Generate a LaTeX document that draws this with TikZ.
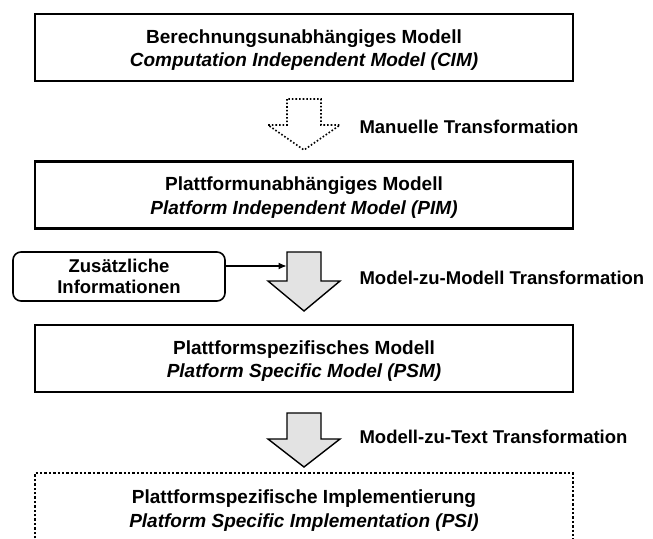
\documentclass[tikz,border=0pt]{standalone}
\usepackage{fontspec}
\setmainfont{Liberation Sans}
\usetikzlibrary{arrows.meta}
% strut that sets the top gap of the first text line in a box
\newcommand{\topstrut}{\rule{0pt}{18.5pt}}
\begin{document}
\begin{tikzpicture}[x=1pt,y=-1pt,
  modelbox/.style={line width=2.6pt,minimum width=538pt,minimum height=67pt,inner sep=0pt,
    align=center,font=\fontsize{19}{23.5}\selectfont\bfseries},
  sidelabel/.style={anchor=west,font=\fontsize{18.5}{22}\selectfont\bfseries},
  blockarrow/.style={draw=black,line width=1.4pt,fill=black!11,line join=miter},
  manualarrow/.style={draw=black,dotted,line width=1.6pt,fill=white,line join=miter},
  infobox/.style={draw=black,line width=1.6pt,rounded corners=8pt,minimum width=212pt,minimum height=49pt,
    inner sep=0pt,align=center,font=\fontsize{18.5}{21}\selectfont\bfseries}]
\useasboundingbox (0,0) rectangle (653,538);

% model layers
\node[modelbox,draw] (cim) at (304,47.5) {\topstrut Berechnungsunabhängiges Modell\\\itshape Computation Independent Model (CIM)};
\node[modelbox,draw] (pim) at (304,195) {\topstrut Plattformunabhängiges Modell\\\itshape Platform Independent Model (PIM)};
\node[modelbox,draw] (psm) at (304,358.5) {\topstrut Plattformspezifisches Modell\\\itshape Platform Specific Model (PSM)};

% implementation layer, open towards the bottom
\node[modelbox] (psi) at (304,508) {\topstrut Plattformspezifische Implementierung\\\itshape Platform Specific Implementation (PSI)};
\coordinate (psitl) at (35,473);
\coordinate (psitr) at (573,473);
\draw[dotted,line width=2.4pt] (psitl |- psi.south) -- (psitl) -- (psitr) -- (psitr |- psi.south);

% transformation arrows
\coordinate (t1) at (304,99);
\draw[manualarrow] (t1) ++(-17,0) -- ++(0,26) -- ++(-19,0) -- ++(36,25) -- ++(36,-25) -- ++(-19,0) -- ++(0,-26) -- cycle;
\node[sidelabel] (l1) at (356,127) {Manuelle Transformation};

\coordinate (t2) at (304,252);
\draw[blockarrow] (t2) ++(-17,0) -- ++(0,29) -- ++(-19,0) -- ++(36,30) -- ++(36,-30) -- ++(-19,0) -- ++(0,-29) -- cycle;
\node[sidelabel] (l2) at (356,278) {Model-zu-Modell Transformation};

\coordinate (t3) at (304,413);
\draw[blockarrow] (t3) ++(-17,0) -- ++(0,26) -- ++(-19,0) -- ++(36,28) -- ++(36,-28) -- ++(-19,0) -- ++(0,-26) -- cycle;
\node[sidelabel] (l3) at (356,437) {Modell-zu-Text Transformation};

% additional information feeding the model-to-model step
\node[infobox] (zi) at (119,276.5) {Zusätzliche\\Informationen};
\coordinate (zin) at (286.5,266);
\draw[line width=1.1pt,-{Latex[length=8pt,width=7pt]}] (zi.east |- zin) -- (zin);
\end{tikzpicture}
\end{document}
